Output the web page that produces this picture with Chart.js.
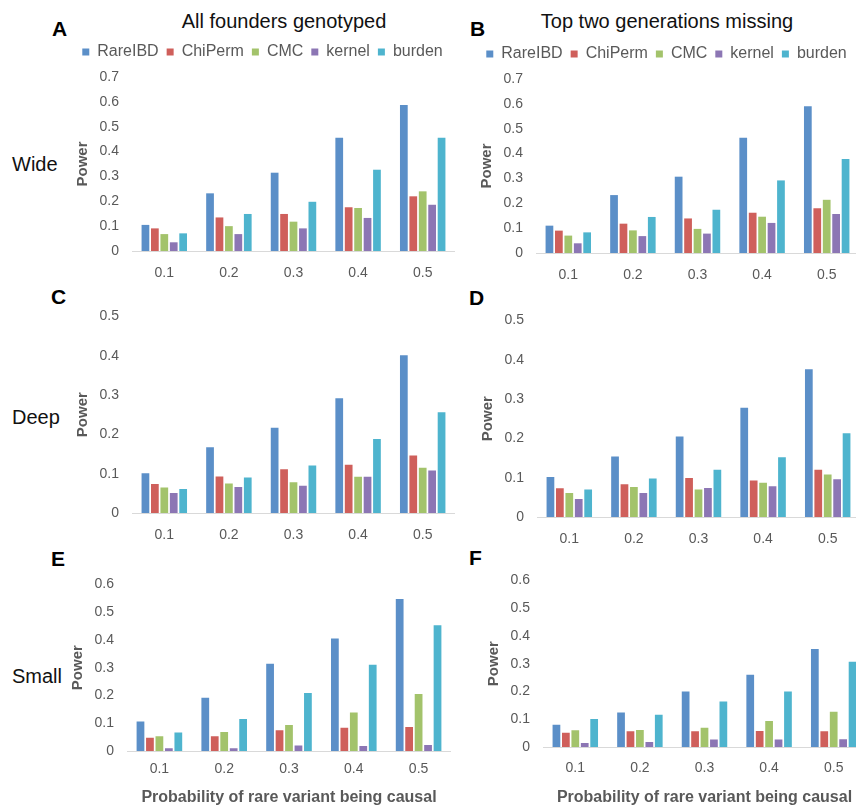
<!DOCTYPE html>
<html>
<head>
<meta charset="utf-8">
<title>Power of rare variant tests</title>
<script src="https://cdn.jsdelivr.net/npm/chart.js@4.4.1/dist/chart.umd.min.js"></script>
<style>
    body {
        margin: 0;
        width: 856px;
        height: 806px;
        position: relative;
        overflow: hidden;
        background: #fff;
        font-family: "Liberation Sans", Arial, sans-serif;
    }
    .panel { position: absolute; }
    .letter { position: absolute; font-size: 21px; line-height: 1; font-weight: bold; color: #000; }
    .col-title { position: absolute; width: 340px; text-align: center; font-size: 20px; line-height: 1; color: #111; }
    .row-label { position: absolute; font-size: 20px; line-height: 1; color: #111; }
</style>
</head>
<body>

<div class="col-title" style="left:114px; top:11px;">All founders genotyped</div>
<div class="col-title" style="left:497px; top:11px;">Top two generations missing</div>

<div class="letter" style="left:52px; top:18px;">A</div>
<div class="letter" style="left:470px; top:18px;">B</div>
<div class="letter" style="left:51px; top:286px;">C</div>
<div class="letter" style="left:469px; top:287px;">D</div>
<div class="letter" style="left:51px; top:548px;">E</div>
<div class="letter" style="left:469px; top:547px;">F</div>

<div class="row-label" style="left:12px; top:154px;">Wide</div>
<div class="row-label" style="left:12px; top:407px;">Deep</div>
<div class="row-label" style="left:12px; top:666px;">Small</div>

<div class="panel" style="left:70px; top:36px;"><canvas id="chartA" width="385" height="251"></canvas></div>
<div class="panel" style="left:474px; top:38px;"><canvas id="chartB" width="385" height="251"></canvas></div>
<div class="panel" style="left:70px; top:295px;"><canvas id="chartC" width="385" height="254"></canvas></div>
<div class="panel" style="left:475px; top:299px;"><canvas id="chartD" width="385" height="254"></canvas></div>
<div class="panel" style="left:65px; top:563px;"><canvas id="chartE" width="386" height="248"></canvas></div>
<div class="panel" style="left:481px; top:559px;"><canvas id="chartF" width="385" height="252"></canvas></div>

<script>
// categories: probability of rare variant being causal
var causalProb = ['0.1', '0.2', '0.3', '0.4', '0.5'];
var methods = ['RareIBD', 'ChiPerm', 'CMC', 'kernel', 'burden'];
var methodColors = ['#5b8fc8', '#cf5f5b', '#a3c36b', '#8c76b4', '#4eb4ce'];

// power per method (rows follow `methods`)
var wideAll = [
    [0.105, 0.232, 0.315, 0.456, 0.587],
    [0.091, 0.135, 0.149, 0.176, 0.220],
    [0.068, 0.100, 0.118, 0.173, 0.240],
    [0.035, 0.068, 0.091, 0.133, 0.186],
    [0.071, 0.149, 0.198, 0.327, 0.456]
];
var wideMissing = [
    [0.110, 0.233, 0.307, 0.464, 0.590],
    [0.090, 0.118, 0.139, 0.162, 0.180],
    [0.070, 0.091, 0.097, 0.146, 0.214],
    [0.039, 0.068, 0.078, 0.121, 0.157],
    [0.083, 0.145, 0.174, 0.292, 0.378]
];
var deepAll = [
    [0.101, 0.167, 0.217, 0.292, 0.401],
    [0.074, 0.093, 0.111, 0.123, 0.146],
    [0.065, 0.075, 0.078, 0.092, 0.115],
    [0.051, 0.066, 0.069, 0.092, 0.108],
    [0.061, 0.090, 0.121, 0.188, 0.256]
];
var deepMissing = [
    [0.102, 0.154, 0.205, 0.278, 0.376],
    [0.073, 0.083, 0.099, 0.093, 0.120],
    [0.061, 0.076, 0.070, 0.087, 0.108],
    [0.046, 0.061, 0.074, 0.078, 0.096],
    [0.070, 0.098, 0.120, 0.152, 0.213]
];
var smallAll = [
    [0.106, 0.192, 0.314, 0.405, 0.547],
    [0.048, 0.053, 0.075, 0.084, 0.086],
    [0.053, 0.068, 0.094, 0.139, 0.205],
    [0.010, 0.010, 0.020, 0.018, 0.022],
    [0.067, 0.115, 0.209, 0.311, 0.453]
];
var smallMissing = [
    [0.080, 0.124, 0.200, 0.260, 0.353],
    [0.051, 0.057, 0.057, 0.058, 0.057],
    [0.060, 0.061, 0.069, 0.094, 0.127],
    [0.014, 0.018, 0.027, 0.027, 0.028],
    [0.101, 0.116, 0.164, 0.200, 0.307]
];

// y axis maxima per row
var wideMax = 0.7;
var deepMax = 0.5;
var smallMax = 0.6;

var xTitle = 'Probability of rare variant being causal';
var yTitle = 'Power';

var FONT = '"Liberation Sans", Arial, sans-serif';
var GREY = '#595959';

// pushes the plot down a little below the legend
var legendGap = {
    id: 'legendGap',
    beforeInit: function (chart) {
        if (!chart.legend) return;
        var fitOrig = chart.legend.fit;
        chart.legend.fit = function () {
            fitOrig.call(this);
            this.height += 7;
        };
    }
};

function drawPanel(id, rows, yMax, opts) {
    var datasets = rows.map(function (vals, i) {
        return {
            label: methods[i],
            data: vals,
            backgroundColor: methodColors[i],
            borderWidth: 0,
            categoryPercentage: 0.73,
            barPercentage: 0.82
        };
    });

    var config = {
        type: 'bar',
        data: { labels: causalProb, datasets: datasets },
        plugins: opts.legend ? [legendGap] : [],
        options: {
            responsive: false,
            animation: false,
            layout: { padding: { top: opts.legend ? 0 : 12, left: 0, right: 0, bottom: 0 } },
            plugins: {
                legend: {
                    display: !!opts.legend,
                    position: 'top',
                    labels: {
                        boxWidth: 7,
                        boxHeight: 7,
                        padding: 8,
                        color: GREY,
                        font: { family: FONT, size: 16 }
                    }
                },
                tooltip: { enabled: false }
            },
            scales: {
                x: {
                    grid: { display: false, drawTicks: false },
                    border: { display: true, color: '#d9d9d9', width: 1 },
                    ticks: { color: GREY, padding: opts.xPad, font: { family: FONT, size: 14 } },
                    title: {
                        display: !!opts.xTitle,
                        text: xTitle,
                        color: GREY,
                        padding: { top: 4, bottom: 4 },
                        font: { family: FONT, size: 16, weight: 'bold' }
                    },
                    afterFit: function (scale) { scale.height = opts.xHeight; }
                },
                y: {
                    min: 0,
                    max: yMax,
                    grid: { display: false, drawTicks: false },
                    border: { display: false },
                    ticks: {
                        stepSize: 0.1,
                        color: GREY,
                        padding: 13,
                        font: { family: FONT, size: 14 },
                        callback: function (v) { return String(Math.round(v * 10) / 10); }
                    },
                    title: {
                        display: true,
                        text: yTitle,
                        color: GREY,
                        padding: { top: 4, bottom: 4 },
                        font: { family: FONT, size: 15, weight: 'bold' }
                    },
                    afterFit: function (scale) { scale.width = 62; }
                }
            }
        }
    };

    return new Chart(document.getElementById(id), config);
}

drawPanel('chartA', wideAll, wideMax, { legend: true, xPad: 14, xHeight: 36 });
drawPanel('chartB', wideMissing, wideMax, { legend: true, xPad: 14, xHeight: 36 });
drawPanel('chartC', deepAll, deepMax, { xPad: 14, xHeight: 36 });
drawPanel('chartD', deepMissing, deepMax, { xPad: 14, xHeight: 36 });
drawPanel('chartE', smallAll, smallMax, { xPad: 10, xHeight: 60, xTitle: true });
drawPanel('chartF', smallMissing, smallMax, { xPad: 13, xHeight: 64, xTitle: true });
</script>
</body>
</html>
